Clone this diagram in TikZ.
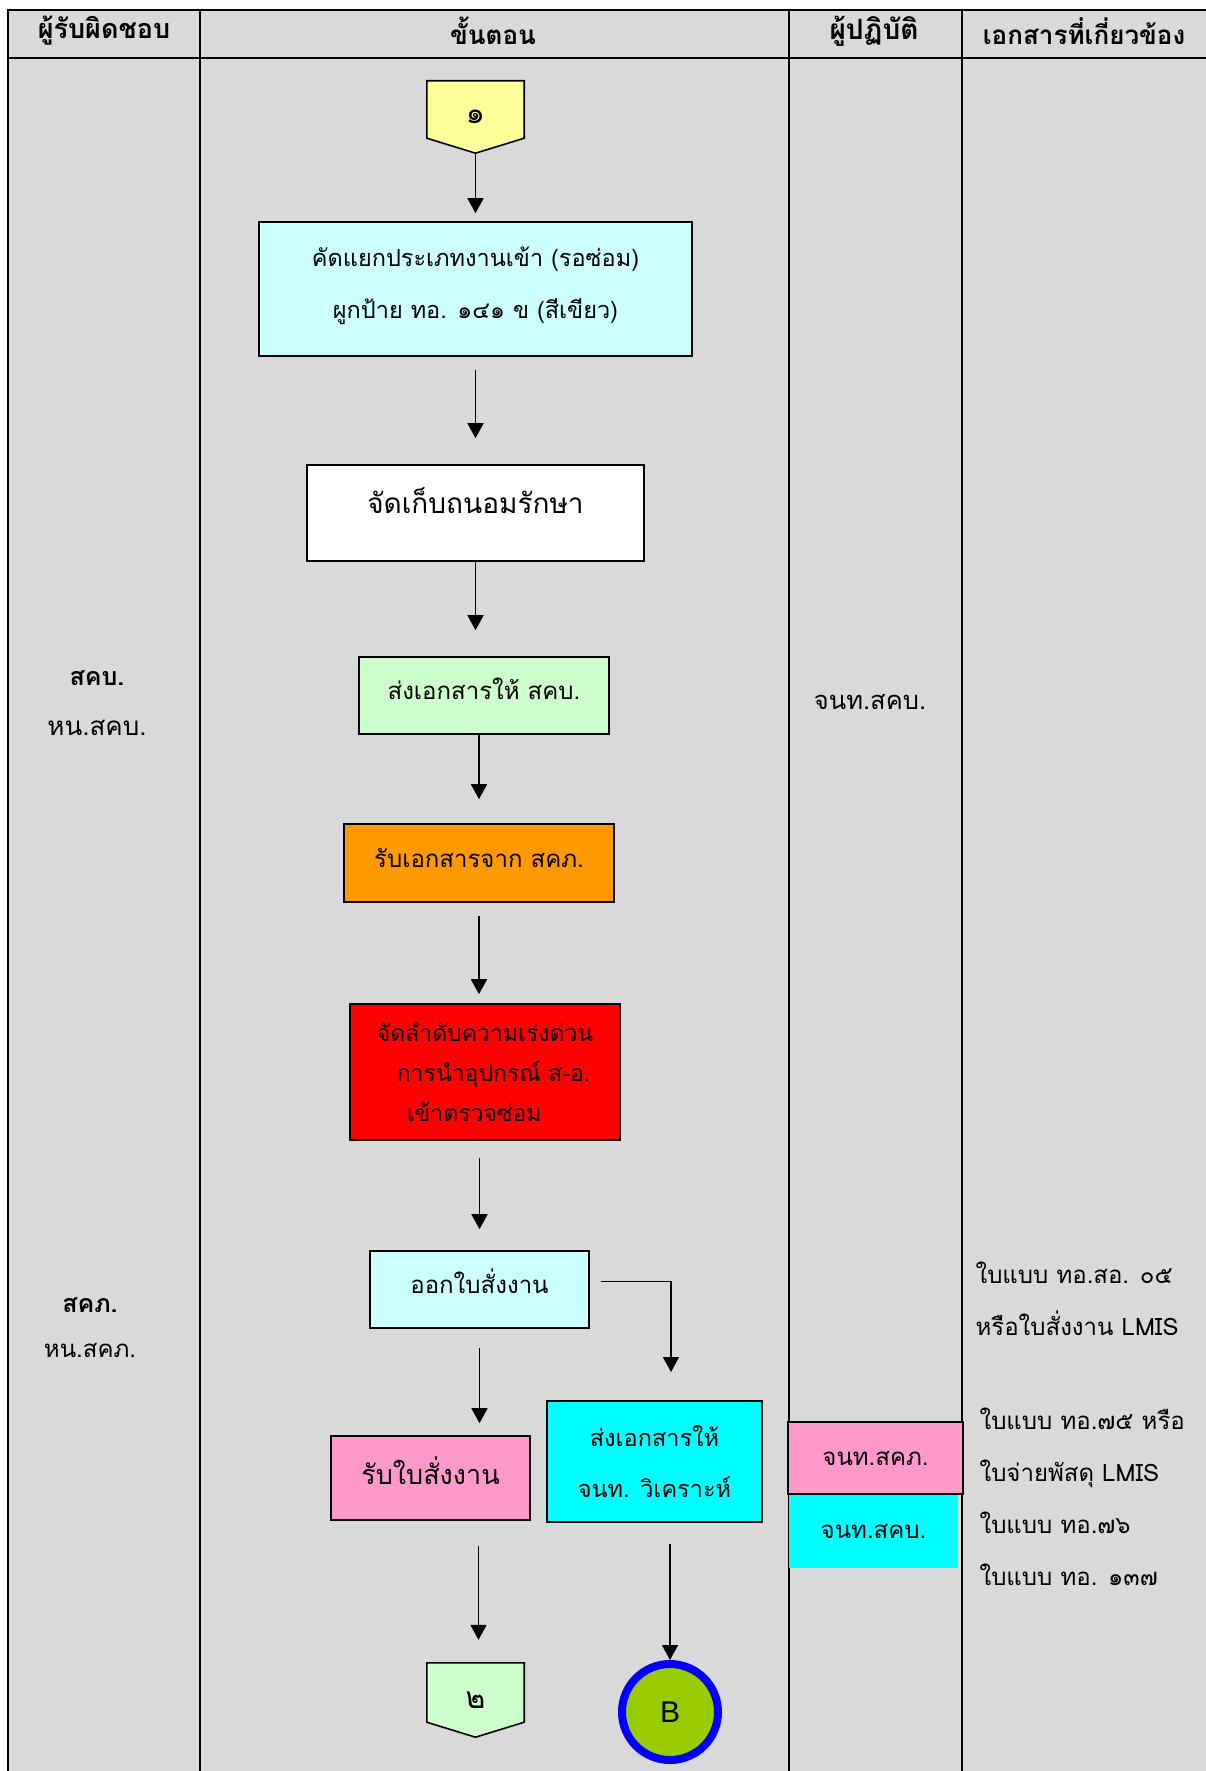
\documentclass[tikz,border=0pt]{standalone}
\usepackage{fontspec}
\setmainfont[Script=Thai]{Loma}
\newfontfamily\latinsans{Liberation Sans}
\usetikzlibrary{arrows.meta,calc,backgrounds}
\definecolor{tablegray}{HTML}{D9D9D9}
\definecolor{paleyellow}{HTML}{FFFF99}
\definecolor{palecyan}{HTML}{CCFFFF}
\definecolor{palegreen}{HTML}{CCFFCC}
\definecolor{amber}{HTML}{FF9900}
\definecolor{rose}{HTML}{FF99CC}
\definecolor{aqua}{HTML}{00FFFF}
\definecolor{leaf}{HTML}{99CC00}
\begin{document}
\begin{tikzpicture}[x=1pt,y=-1pt]
    \tikzset{box/.style = {shape=rectangle,draw,line width=1.6pt,align=center,inner sep=0pt,font=\fontsize{24}{52}\selectfont}}
    \tikzset{lift/.style = {text depth=14pt}}
    \tikzset{flow/.style = {-{Triangle[length=15pt,width=16pt]},line width=1.8pt}}
    \tikzset{rule/.style = {line width=2.5pt}}
    \tikzset{pageconn/.style = {shape=rectangle,minimum width=97pt,minimum height=72pt,inner sep=0pt,font=\fontsize{30}{34}\selectfont}}
    \tikzset{head/.style = {font=\bfseries\fontsize{26}{30}\selectfont}}
    \tikzset{who/.style = {font=\fontsize{24}{30}\selectfont}}
    \tikzset{whobold/.style = {font=\bfseries\fontsize{25}{30}\selectfont}}
    \tikzset{doc/.style = {anchor=west,align=left,font=\fontsize{24}{52}\selectfont}}
    \useasboundingbox (0,0) rectangle (1206,1771);
    % table frame
    \begin{pgfonlayer}{background}
    \fill[tablegray] (8,10) rectangle (1206,1771);
    \end{pgfonlayer}
    \draw[rule] (1206,10) -- (8,10) -- (8,1771);
    \draw[rule] (8,58) -- (1206,58);
    \foreach \x in {200,789,962} \draw[rule] (\x,10) -- (\x,1771);
    % column heads
    \node[head, font=\bfseries\fontsize{27}{30}\selectfont] (h1) at (104,31) {ผู้รับผิดชอบ};
    \node[head] (h2) at (493,31) {ขั้นตอน};
    \node[head, font=\bfseries\fontsize{28}{30}\selectfont] (h3) at (874,31) {ผู้ปฏิบัติ};
    \node[head] (h4) at (1084,31) {เอกสารที่เกี่ยวข้อง};
    % responsible units
    \node[whobold] (unitK) at (97,678) {สคบ.};
    \node[who, font=\fontsize{26}{30}\selectfont] (headK) at (97,728) {หน.สคบ.};
    \node[whobold] (unitP) at (90,1305) {สคภ.};
    \node[who] (headP) at (90,1350) {หน.สคภ.};
    % process steps
    \node[pageconn] (pageA) at (475.5,117) {๑};
    \node[box, lift, text depth=12pt, fill=palecyan, minimum width=433pt, minimum height=134pt, font=\fontsize{23.5}{52}\selectfont] (sort) at (475.5,289) {คัดแยกประเภทงานเข้า (รอซ่อม)\\ผูกป้าย ทอ. ๑๔๑ ข (สีเขียว)};
    \node[box, fill=white, minimum width=337pt, minimum height=96pt, text depth=24pt, font=\fontsize{28}{36}\selectfont] (store) at (475.5,513) {จัดเก็บถนอมรักษา};
    \node[box, lift, fill=palegreen, minimum width=250pt, minimum height=77pt] (sendK) at (484,695.5) {ส่งเอกสารให้ สคบ.};
    \node[box, lift, text depth=10pt, fill=amber, minimum width=270pt, minimum height=78pt] (recvP) at (479,863) {รับเอกสารจาก สคภ.};
    \node[box, fill=red, minimum width=270pt, minimum height=136pt, align=left, font=\fontsize{23}{40}\selectfont] (prio) at (485,1072) {จัดลำดับความเร่งด่วน\\\hspace*{20pt}การนำอุปกรณ์ ส-อ.\\\hspace*{30pt}เข้าตรวจซ่อม};
    \node[box, lift, text depth=16pt, fill=palecyan, minimum width=219pt, minimum height=77pt] (order) at (479.5,1289.5) {ออกใบสั่งงาน};
    \node[box, lift, fill=rose, minimum width=199pt, minimum height=84pt, font=\fontsize{27}{36}\selectfont] (recvO) at (430.5,1478) {รับใบสั่งงาน};
    \node[box, fill=aqua, minimum width=215pt, minimum height=121pt, font=\fontsize{23.5}{51}\selectfont] (sendA) at (654.5,1461.5) {ส่งเอกสารให้\\จนท. วิเคราะห์};
    \node[pageconn, minimum height=74pt] (pageB) at (475.5,1700) {๒};
    \node[shape=circle, draw=blue, line width=8pt, fill=leaf, minimum size=96pt, inner sep=0pt, font=\latinsans\fontsize{30}{36}\selectfont] (circB) at (670,1712) {B};
    % off-page connector outlines
    \begin{pgfonlayer}{background}
    \draw[line width=1.6pt, fill=paleyellow] (pageA.north west) -- (pageA.north east) -- ($(pageA.south east)+(0,-15)$) -- (pageA.south) -- ($(pageA.south west)+(0,-15)$) -- cycle;
    \draw[line width=1.6pt, fill=palegreen] (pageB.north west) -- (pageB.north east) -- ($(pageB.south east)+(0,-15)$) -- (pageB.south) -- ($(pageB.south west)+(0,-15)$) -- cycle;
    \end{pgfonlayer}
    % operators
    \node[who, font=\fontsize{25.5}{30}\selectfont] (staffK) at (870,702) {จนท.สคบ.};
    \node[fill=aqua, minimum width=169pt, minimum height=74pt, inner sep=0pt, font=\fontsize{24}{30}\selectfont] (staffB) at (873.5,1531) {จนท.สคบ.};
    \node[box, fill=rose, minimum width=175pt, minimum height=72pt, font=\fontsize{24}{30}\selectfont] (staffP) at (875.5,1458) {จนท.สคภ.};
    % related documents
    \node[doc] (docA) at (972,1299) {ใบแบบ ทอ.สอ. ๐๕\\หรือใบสั่งงาน LMIS};
    \node[doc] (docB) at (976,1496.5) {ใบแบบ ทอ.๗๕ หรือ\\ใบจ่ายพัสดุ LMIS\\ใบแบบ ทอ.๗๖\\ใบแบบ ทอ. ๑๓๗};
    % flow arrows
    \coordinate (forkEnd) at (671,1372);
    \draw[flow, shorten >=8pt] (pageA.south) -- (sort.north);
    \draw[flow, shorten <=13pt, shorten >=26pt] (sort.south) -- (store.north);
    \draw[flow, shorten >=26pt] (store.south) -- (store.south |- sendK.north);
    \draw[flow, shorten >=24pt] (recvP.north |- sendK.south) -- (recvP.north);
    \draw[flow, shorten <=13pt, shorten >=9pt] (recvP.south) -- (recvP.south |- prio.north);
    \draw[flow, shorten <=17pt, shorten >=21pt] (order.north |- prio.south) -- (order.north);
    \draw[flow, shorten <=19pt, shorten >=12pt] (order.south) -- (order.south |- recvO.north);
    \draw[flow] ([xshift=11pt,yshift=8pt]order.east) -| (forkEnd);
    \draw[flow, shorten <=25pt, shorten >=23pt] ([xshift=3pt]pageB.north |- recvO.south) -- ([xshift=3pt]pageB.north);
    \draw[flow, shorten <=21pt] (circB.north |- sendA.south) -- (circB.north);
\end{tikzpicture}
\end{document}
